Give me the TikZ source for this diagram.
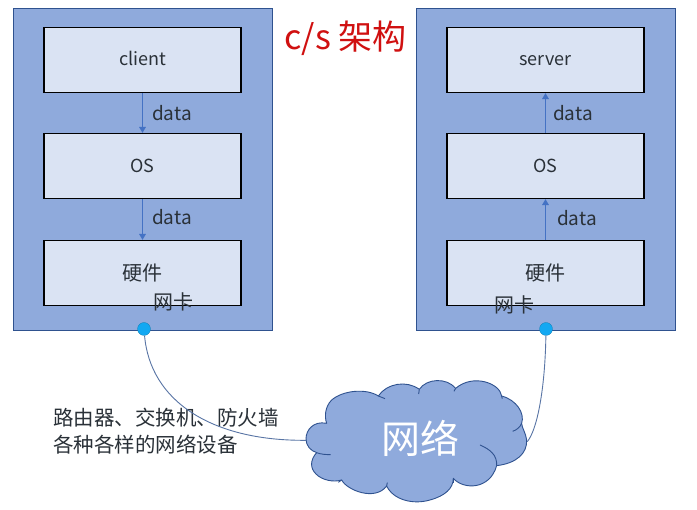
\documentclass[tikz,border=0pt]{standalone}
\usepackage{fontspec}
\setmainfont{Noto Sans CJK SC}[Scale=1]
\definecolor{outerfill}{HTML}{8FAADC}
\definecolor{outerline}{HTML}{2F528F}
\definecolor{innerfill}{HTML}{DAE3F3}
\definecolor{arrowblue}{HTML}{4472C4}
\definecolor{dotblue}{HTML}{12A8F2}
\definecolor{titlered}{HTML}{D01010}
\definecolor{inktext}{HTML}{2A3138}
\usetikzlibrary{arrows.meta}
\tikzset{
  outerbox/.style={draw=outerline,fill=outerfill,line width=0.9pt,minimum width=259pt,minimum height=322pt,inner sep=0pt},
  innerbox/.style={draw=black,fill=innerfill,line width=1.1pt,minimum width=197pt,minimum height=65pt,inner sep=0pt,text=inktext,font=\fontsize{18}{20}\selectfont},
  cjkbox/.style={innerbox,font=\fontsize{20}{22}\selectfont},
  wordbox/.style={innerbox,text height=13pt,text depth=2pt},
  lbl/.style={inner sep=0pt,text=inktext,font=\fontsize{19}{21}\selectfont},
  cjklbl/.style={inner sep=0pt,text=inktext,font=\fontsize{20}{22}\selectfont},
  notes/.style={inner sep=0pt,anchor=west,text=inktext,font=\fontsize{20.5}{22}\selectfont},
  flow/.style={draw=arrowblue,line width=1.5pt,-{Triangle[length=6pt,width=6.5pt]}},
  nic/.style={circle,fill=dotblue,draw=dotblue!70!black,line width=0.2pt,minimum width=13pt,minimum height=13pt,inner sep=0pt},
  link/.style={draw=outerline!80!white,line width=0.9pt},
  cloudline/.style={draw=outerline,line width=0.9pt,line join=round}
}
\begin{document}
\begin{tikzpicture}[x=1pt,y=-1pt]
\useasboundingbox (0,0) rectangle (697,510);
\fill[white] (0,0) rectangle (697,510);
\node[outerbox] (lo) at (142.5,169) {};
\node[outerbox] (ro) at (545.5,169) {};
\node[wordbox] (client) at (142.5,60) {client};
\node[innerbox] (los) at (142.5,166) {OS};
\node[cjkbox] (lhw) at (142.5,273) {硬件};
\node[wordbox] (server) at (545.5,60) {server};
\node[innerbox] (ros) at (545.5,166) {OS};
\node[cjkbox] (rhw) at (545.5,273) {硬件};
\draw[flow] (client) -- (los);
\draw[flow] (los) -- (lhw);
\draw[flow] (rhw) -- (ros);
\draw[flow] (ros) -- (server);
\node[lbl] (d1) at (172,113) {data};
\node[lbl] (d2) at (172,217) {data};
\node[lbl] (d3) at (573,113) {data};
\node[lbl] (d4) at (577,218) {data};
\node[cjklbl] (k1) at (173,302) {网卡};
\node[cjklbl] (k2) at (514,305) {网卡};
\node[inner sep=0pt,text=titlered,font=\fontsize{34}{38}\selectfont] (title) at (345.5,38) {c/s 架构};
\node[notes] (t1) at (53,418) {路由器、交换机、防火墙};
\node[notes] (t2) at (53,445) {各种各样的网络设备};
% cloud
\begin{scope}[shift={(290,290)},x=0.3333pt,y=-0.3333pt]
\draw[cloudline,fill=outerfill]
 (110,400) .. controls (70,392) and (48,420) .. (48,447)
 .. controls (48,465) and (60,482) .. (80,488)
 .. controls (60,510) and (60,535) .. (78,552)
 .. controls (95,570) and (130,578) .. (155,570)
 .. controls (170,600) and (255,635) .. (290,588)
 .. controls (310,630) and (370,645) .. (420,630)
 .. controls (465,618) and (490,595) .. (490,565)
 .. controls (520,600) and (600,600) .. (620,527)
 .. controls (680,520) and (712,490) .. (710,450)
 .. controls (708,430) and (695,412) .. (695,400)
 .. controls (705,370) and (680,330) .. (635,318)
 .. controls (630,280) and (550,250) .. (497,295)
 .. controls (470,262) and (410,265) .. (388,298)
 .. controls (350,270) and (290,280) .. (265,318)
 .. controls (230,295) and (160,300) .. (125,330)
 .. controls (105,350) and (103,380) .. (110,400) -- cycle;
\draw[cloudline] (80,488) .. controls (92,493) and (108,494) .. (122,494);
\draw[cloudline] (570,465) .. controls (600,478) and (622,495) .. (620,527);
\draw[cloudline] (668,424) .. controls (680,420) and (690,412) .. (695,400);
\draw[cloudline] (635,318) -- (637,326);
\draw[cloudline] (497,295) -- (492,304);
\draw[cloudline] (388,298) -- (386,312);
\draw[cloudline] (265,318) -- (285,326);
\draw[cloudline] (155,570) -- (145,577);
\draw[cloudline] (290,588) -- (292,578);
\draw[cloudline] (490,565) -- (490,578);
\coordinate (cloudL) at (48,451);
\coordinate (cloudR) at (712,455);
\end{scope}
\node[inner sep=0pt,text=white,font=\fontsize{39}{44}\selectfont] (net) at (420,438) {网络};
\node[nic] (n1) at (144,329) {};
\node[nic] (n2) at (546,329) {};
\draw[link] (n1) .. controls (150,400) and (210,441) .. (cloudL);
\draw[link] (n2) .. controls (545,390) and (537,430) .. (cloudR);
\end{tikzpicture}
\end{document}
